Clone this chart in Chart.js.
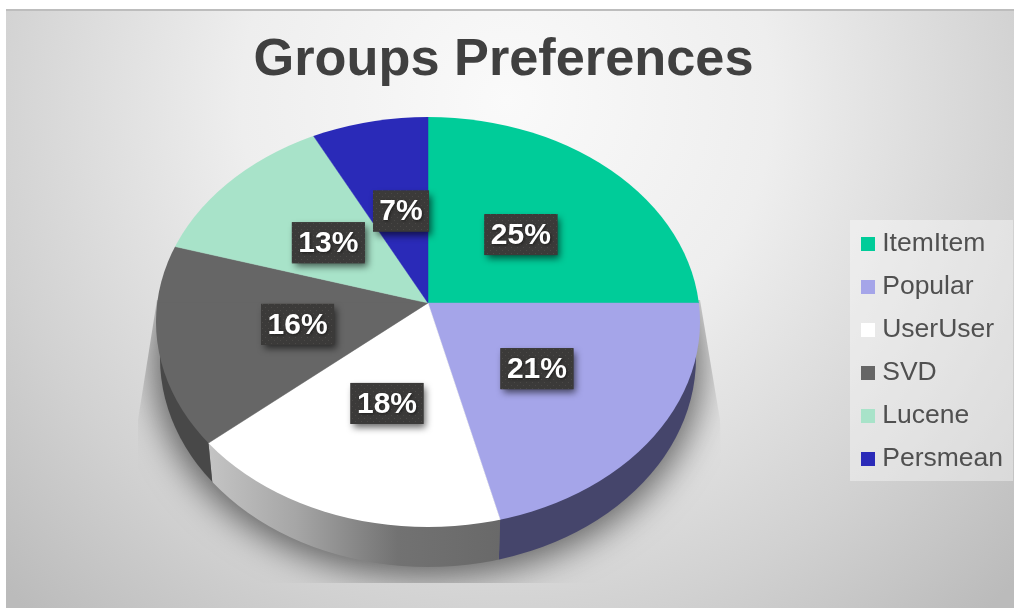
<!DOCTYPE html>
<html>
<head>
<meta charset="utf-8">
<style>html,body{margin:0;padding:0;background:#fff}canvas{display:block}</style>
<script src="https://cdn.jsdelivr.net/npm/chart.js@4"></script>
</head>
<body>
<canvas id="c" width="1014" height="608"></canvas>
<script>
const categories = ['ItemItem', 'Popular', 'UserUser', 'SVD', 'Lucene', 'Persmean'];
const shares = [25, 21, 18, 16, 13, 7];
const chartTitle = 'Groups Preferences';
const sliceColors = ['#00CC99', '#A5A5E9', '#FFFFFF', '#666666', '#A8E3C9', '#2A2AB8'];

const FONT = '"Liberation Sans", Arial, sans-serif';
// apex of the tilted pie and foreshortening of the wedges
const CX = 428, CY = 303, WX = 271, WTOP = 186, WBOT = 209, OVER = 1.1;
// rim of the top face and of the bottom face
const FACE = { x: 428, y: 322, rx: 272, ry: 205 };
const BASE = { x: 428, y: 358, rx: 268, ry: 209 };
const labelNudge = [[-1, -1], [4, 2], [0, 0], [0, 4], [0, 3], [2, 0]];

function swatch(color) {
  const s = document.createElement('canvas');
  s.width = 14; s.height = 14;
  const g = s.getContext('2d');
  g.fillStyle = color; g.fillRect(0, 0, 14, 14);
  return s;
}
function dots() {
  const s = document.createElement('canvas');
  s.width = 6; s.height = 6;
  const g = s.getContext('2d');
  g.fillStyle = '#3b3a39'; g.fillRect(0, 0, 6, 6);
  g.fillStyle = '#4b4947'; g.fillRect(1, 1, 1, 1); g.fillRect(4, 4, 1, 1);
  return s;
}
// point where a wedge edge at angle a meets the top-face ellipse
function edgePoint(a) {
  const dx = WX * Math.cos(a), dy = (Math.sin(a) > 0 ? WBOT : WTOP) * Math.sin(a);
  const ax = (CX - FACE.x) / FACE.rx, ay = (CY - FACE.y) / FACE.ry;
  const bx = dx / FACE.rx, by = dy / FACE.ry;
  const A = bx * bx + by * by, B = 2 * (ax * bx + ay * by), C = ax * ax + ay * ay - 1;
  const t = (-B + Math.sqrt(B * B - 4 * A * C)) / (2 * A);
  return [CX + dx * t, CY + dy * t];
}
function cutLine(a) {
  if (a <= 0.001) return [1014, 1014];
  if (a >= Math.PI - 0.001) return [0, 0];
  const p = edgePoint(a), k = (CX - p[0]) * 0.02 / 45;
  return [p[0] + (300 - p[1]) * k, p[0] + (608 - p[1]) * k];
}
function sideFill(ctx, i) {
  if (i === 1) return '#45456B';
  if (i === 2) {
    const g = ctx.createLinearGradient(208, 0, 500, 0);
    g.addColorStop(0, '#C4C4C4'); g.addColorStop(0.3, '#A6A6A6');
    g.addColorStop(0.65, '#727272'); g.addColorStop(1, '#696969');
    return g;
  }
  return '#484848';
}

const pie3d = {
  id: 'pie3d',
  beforeDraw(chart) {
    const ctx = chart.ctx;
    const g = ctx.createRadialGradient(507, 100, 0, 507, 100, 700);
    g.addColorStop(0, '#FAFAFA'); g.addColorStop(0.38, '#EEEEEE');
    g.addColorStop(0.75, '#D1D1D1'); g.addColorStop(1, '#BBBBBB');
    ctx.save();
    ctx.fillStyle = g; ctx.fillRect(6, 9, 1008, 599);
    ctx.fillStyle = '#BDBDBD'; ctx.fillRect(6, 9, 1008, 2);
    ctx.fillStyle = 'rgba(255,255,255,0.38)'; ctx.fillRect(850, 220, 163, 261);
    ctx.restore();
  },
  beforeDatasetDraw(chart, args) {
    const ctx = chart.ctx, meta = args.meta, arcs = meta.data;
    const r = arcs[0].outerRadius, ox = arcs[0].x, oy = arcs[0].y;

    // soft floor shadow, cut off at the bottom as in the picture
    ctx.save();
    ctx.beginPath();
    ctx.moveTo(157, 300); ctx.lineTo(138, 420); ctx.lineTo(138, 583);
    ctx.lineTo(722, 583); ctx.lineTo(720, 420); ctx.lineTo(700, 300);
    ctx.closePath(); ctx.clip();
    ctx.shadowColor = 'rgba(0,0,0,0.55)'; ctx.shadowBlur = 34; ctx.shadowOffsetX = 2000;
    ctx.fillStyle = '#000';
    ctx.beginPath(); ctx.ellipse(BASE.x - 2000, BASE.y + 4, BASE.rx + 7, BASE.ry + 6, 0, 0, Math.PI * 2); ctx.fill();
    ctx.restore();

    // rim: the bottom ellipse, cut into one piece per arc
    arcs.forEach((arc, i) => {
      const a0 = Math.max(arc.startAngle, 0), a1 = Math.min(arc.endAngle, Math.PI);
      if (a1 <= a0) return;
      const c0 = cutLine(a0), c1 = cutLine(a1);
      ctx.save();
      ctx.beginPath();
      ctx.moveTo(c0[0], 300); ctx.lineTo(c0[1], 608); ctx.lineTo(c1[1], 608); ctx.lineTo(c1[0], 300);
      ctx.closePath(); ctx.clip();
      ctx.fillStyle = sideFill(ctx, i);
      ctx.beginPath(); ctx.ellipse(BASE.x, BASE.y, BASE.rx, BASE.ry, 0, 0, Math.PI * 2); ctx.fill();
      ctx.restore();
    });

    // top face: wedges drawn by the library, trimmed to the face ellipse
    ctx.save();
    ctx.beginPath(); ctx.ellipse(FACE.x, FACE.y, FACE.rx, FACE.ry, 0, 0, Math.PI * 2); ctx.clip();
    [[0, CY + 0.3, WTOP], [CY - 0.3, 400, WBOT]].forEach(([y0, h, ry]) => {
      ctx.save();
      ctx.beginPath(); ctx.rect(0, y0, 1014, h); ctx.clip();
      ctx.translate(CX, CY); ctx.scale(WX * OVER / r, ry * OVER / r); ctx.translate(-ox, -oy);
      meta.controller.draw();
      ctx.restore();
    });
    ctx.restore();
    return false;
  },
  afterDatasetsDraw(chart) {
    const ctx = chart.ctx, arcs = chart.getDatasetMeta(0).data;
    const pattern = ctx.createPattern(dots(), 'repeat');
    ctx.save();
    ctx.font = 'bold 30px ' + FONT;
    ctx.textAlign = 'center'; ctx.textBaseline = 'middle';
    arcs.forEach((arc, i) => {
      const a = (arc.startAngle + arc.endAngle) / 2, s = Math.sin(a);
      const x = CX + WX * Math.cos(a) * 0.49 + labelNudge[i][0];
      const y = CY + (s > 0 ? 222 : 186) * s * 0.49 - 3 + labelNudge[i][1];
      const text = shares[i] + '%';
      const w = Math.round(ctx.measureText(text).width) + 13, h = 41;
      ctx.save();
      ctx.shadowColor = 'rgba(0,0,0,0.6)'; ctx.shadowBlur = 7; ctx.shadowOffsetX = 3; ctx.shadowOffsetY = 4;
      ctx.fillStyle = '#3b3a39';
      ctx.fillRect(x - w / 2, y - h / 2, w, h);
      ctx.restore();
      ctx.fillStyle = pattern;
      ctx.fillRect(x - w / 2, y - h / 2, w, h);
      ctx.save();
      ctx.shadowColor = 'rgba(0,0,0,0.5)'; ctx.shadowBlur = 3; ctx.shadowOffsetX = 1; ctx.shadowOffsetY = 1;
      ctx.fillStyle = '#FFFFFF';
      ctx.fillText(text, x, y + 1);
      ctx.restore();
    });
    ctx.restore();
  }
};

new Chart(document.getElementById('c'), {
  type: 'pie',
  data: {
    labels: categories,
    datasets: [{
      data: shares,
      backgroundColor: sliceColors,
      borderColor: sliceColors,
      borderWidth: 0.5
    }]
  },
  plugins: [pie3d],
  options: {
    responsive: false,
    animation: false,
    layout: { padding: { left: -6, right: 1 } },
    plugins: {
      tooltip: { enabled: false },
      title: {
        display: true,
        text: chartTitle,
        color: '#404040',
        font: { family: FONT, size: 52.3, weight: 'bold' },
        padding: { top: 29, bottom: 3 }
      },
      legend: {
        position: 'right',
        fullSize: false,
        labels: {
          color: '#505050',
          font: { family: FONT, size: 26.5 },
          usePointStyle: true,
          pointStyleWidth: 2,
          padding: 16.5,
          generateLabels(chart) {
            return Chart.overrides.pie.plugins.legend.labels.generateLabels(chart)
              .map((it, i) => Object.assign(it, { pointStyle: swatch(sliceColors[i]) }));
          }
        }
      }
    }
  }
});
</script>
</body>
</html>
